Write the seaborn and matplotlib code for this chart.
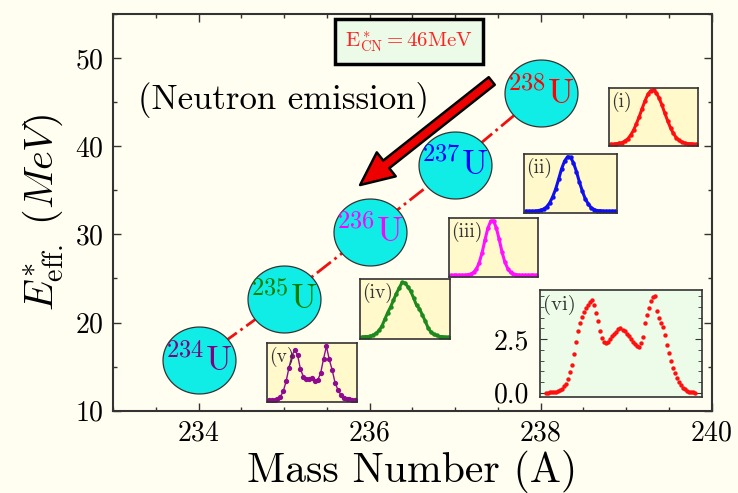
import numpy as np
import matplotlib
matplotlib.use("Agg")
import matplotlib.pyplot as plt
from matplotlib.path import Path
from matplotlib.ticker import MultipleLocator, FixedLocator, NullLocator
import seaborn as sns

# Uranium isotopes along the neutron-emission chain
mass_number = [234, 235, 236, 237, 238]
e_eff = [15.7, 22.7, 30.3, 37.9, 46.0]
nucleus_colors = ["#800080", "#008000", "#ff00ff", "#0000ff", "#ff0000"]

# Normalised fragment-mass yields for the small panels (i)-(v)
frag_bin = list(range(31))
yield_i = [0.00, 0.00, 0.01, 0.02, 0.03, 0.06, 0.10, 0.17, 0.26, 0.38, 0.51,
           0.66, 0.80, 0.92, 0.99, 1.00, 0.95, 0.85, 0.72, 0.57, 0.43, 0.30,
           0.20, 0.12, 0.07, 0.04, 0.02, 0.01, 0.01, 0.00, 0.00]
yield_ii = [0.00, 0.00, 0.00, 0.00, 0.01, 0.02, 0.04, 0.08, 0.15, 0.26, 0.40,
            0.58, 0.77, 0.91, 0.99, 0.98, 0.88, 0.72, 0.53, 0.36, 0.22, 0.13,
            0.06, 0.03, 0.01, 0.01, 0.00, 0.00, 0.00, 0.00, 0.00]
yield_iii = [0.00, 0.00, 0.00, 0.00, 0.00, 0.00, 0.01, 0.02, 0.05, 0.11, 0.23,
             0.41, 0.64, 0.85, 0.98, 0.99, 0.86, 0.65, 0.42, 0.24, 0.12, 0.05,
             0.02, 0.01, 0.00, 0.00, 0.00, 0.00, 0.00, 0.00, 0.00]
yield_iv = [0.00, 0.01, 0.01, 0.02, 0.04, 0.07, 0.12, 0.20, 0.32, 0.44, 0.54,
            0.66, 0.78, 0.88, 0.98, 0.97, 0.90, 0.82, 0.70, 0.57, 0.51, 0.40,
            0.29, 0.17, 0.09, 0.05, 0.03, 0.01, 0.01, 0.00, 0.00]
yield_v = [0.00, 0.01, 0.01, 0.02, 0.06, 0.16, 0.34, 0.59, 0.80, 0.92, 0.82,
           0.56, 0.43, 0.38, 0.39, 0.41, 0.35, 0.37, 0.49, 0.75, 0.98, 0.74,
           0.55, 0.32, 0.19, 0.10, 0.04, 0.03, 0.02, 0.01, 0.00]

# Fragment-mass yield (%) for the enlarged panel (vi)
vi_bin = list(range(75))
yield_vi = [0.00, 0.00, 0.01, 0.02, 0.03, 0.05, 0.08, 0.13, 0.19, 0.30,
            0.42, 0.63, 0.95, 1.30, 1.80, 2.39, 2.86, 3.25, 3.56, 3.75,
            3.98, 4.11, 4.23, 4.33, 4.11, 3.72, 3.33, 2.86, 2.55, 2.36,
            2.31, 2.39, 2.52, 2.63, 2.73, 2.83, 2.97, 3.02, 2.94, 2.86,
            2.73, 2.63, 2.50, 2.39, 2.28, 2.16, 2.14, 2.31, 2.58, 3.25,
            3.61, 3.98, 4.27, 4.45, 4.50, 3.80, 3.48, 3.25, 3.05, 2.70,
            2.23, 1.84, 1.48, 1.17, 0.91, 0.67, 0.48, 0.36, 0.23, 0.16,
            0.09, 0.05, 0.03, 0.02, 0.00]
vi_ticks = [0.0, 2.5]
vi_tick_labels = ["0.0", "2.5"]

x_ticks = [234, 236, 238, 240]
y_ticks = [10, 20, 30, 40, 50]

sns.set_style("ticks")
plt.rcParams.update({
    "font.family": "serif",
    "font.serif": ["cmr10"],
    "mathtext.fontset": "cm",
    "axes.formatter.use_mathtext": True,
    "axes.unicode_minus": False,
    "text.color": "black",
    "axes.labelcolor": "black",
    "xtick.labelcolor": "black",
    "ytick.labelcolor": "black",
})

BG = "#fffef0"
PANEL_Y = "#fff9cc"
PANEL_G = "#edfbe9"
SPINE = "#333333"

W, H = 738, 493
fig = plt.figure(figsize=(W / 100, H / 100), dpi=100, facecolor=BG)


def px_rect(x0, y0, x1, y1):
    return [x0 / W, 1 - y1 / H, (x1 - x0) / W, (y1 - y0) / H]


ax = fig.add_axes(px_rect(113, 14, 711.5, 410.7))
ax.set_facecolor(BG)

# dash-dot chain connecting the nuclei
sns.lineplot(x=mass_number, y=e_eff, color="#ee1111", linestyle="-.",
             linewidth=2.0, ax=ax, zorder=2)

# oval nuclei
theta = np.linspace(0, 2 * np.pi, 121)
oval = Path(np.column_stack([1.09 * np.cos(theta), np.sin(theta)]))
sns.scatterplot(x=mass_number, y=e_eff, marker=oval, s=2760, color="#10ede6",
                edgecolor="#333333", linewidth=0.9, ax=ax, zorder=3)

for m, e, c in zip(mass_number, e_eff, nucleus_colors):
    ax.text(m, e, rf"$^{{{m}}}\mathrm{{U}}$", color=c, fontsize=25,
            ha="center", va="center", zorder=4)

ax.set_xlim(233, 240)
ax.set_ylim(10, 55)
ax.xaxis.set_major_locator(FixedLocator(x_ticks))
ax.xaxis.set_minor_locator(MultipleLocator(0.5))
ax.yaxis.set_major_locator(FixedLocator(y_ticks))
ax.yaxis.set_minor_locator(MultipleLocator(5))
ax.tick_params(which="both", direction="in", top=True, right=True,
               colors=SPINE, labelcolor="black", width=1.0)
ax.tick_params(which="major", length=5.5, labelsize=20, pad=7)
ax.tick_params(which="minor", length=2.8)
for sp in ax.spines.values():
    sp.set_color(SPINE)
    sp.set_linewidth(1.5)

ax.set_xlabel("Mass Number (A)", fontsize=30, labelpad=2, color="black")
ax.set_ylabel(r"$E^{*}_{\rm eff.}\ (MeV)$", fontsize=29, labelpad=7,
              color="black")

ax.text(235.0, 45.2, "(Neutron emission)", fontsize=25, ha="center",
        va="center", zorder=5, color="black")
ax.annotate("", xy=(235.89, 35.6), xytext=(237.43, 47.4),
            arrowprops=dict(facecolor="#ee0000", edgecolor="black",
                            linewidth=1.8, width=7, headwidth=22,
                            headlength=24, shrink=0.0),
            zorder=5)
ax.text(236.46, 51.9, r"$\mathrm{E^*_{CN}=46MeV}$", color="#ff2222",
        fontsize=15, ha="center", va="center", zorder=6,
        bbox=dict(boxstyle="square,pad=0.5", fc="#ebfbe8", ec="black",
                  lw=2.5))


def small_panel(rect, values, color, label, lw=2.2, ms=3.2):
    iax = fig.add_axes(px_rect(*rect))
    iax.set_facecolor(PANEL_Y)
    sns.lineplot(x=frag_bin, y=values, color=color, linewidth=lw,
                 marker="o", markersize=ms, markeredgewidth=0, ax=iax)
    iax.set_xlim(-0.625, 30.625)
    iax.set_ylim(-0.033, 1.04)
    iax.xaxis.set_major_locator(NullLocator())
    iax.yaxis.set_major_locator(NullLocator())
    iax.set_xlabel("")
    iax.set_ylabel("")
    for sp in iax.spines.values():
        sp.set_color(SPINE)
        sp.set_linewidth(1.2)
    iax.text(0.025, 0.93, label, transform=iax.transAxes, fontsize=14,
             color="#333333", ha="left", va="top")
    return iax


small_panel((609, 88, 698, 146), yield_i, "#ff1010", "(i)")
small_panel((524, 154, 617, 213), yield_ii, "#1010ee", "(ii)")
small_panel((449, 218, 538, 277), yield_iii, "#ff10ff", "(iii)")
small_panel((360, 279, 450, 339), yield_iv, "#1e8a1e", "(iv)")
small_panel((267, 343, 357, 402), yield_v, "#8e0a8e", "(v)", lw=1.0, ms=3.8)

# enlarged panel (vi)
vax = fig.add_axes(px_rect(540, 290, 702, 396.7))
vax.set_facecolor(PANEL_G)
sns.scatterplot(x=vi_bin, y=yield_vi, color="#ff1010", s=10, linewidth=0,
                ax=vax)
vax.set_xlim(-2.8, 77.3)
vax.set_ylim(-0.19, 4.8)
vax.xaxis.set_major_locator(NullLocator())
vax.yaxis.set_major_locator(FixedLocator(vi_ticks))
vax.set_yticklabels(vi_tick_labels)
vax.yaxis.set_minor_locator(MultipleLocator(0.5))
vax.tick_params(which="both", direction="in", left=True, right=True,
                colors=SPINE, labelcolor="black")
vax.tick_params(which="major", length=5, labelsize=20, pad=8)
vax.tick_params(which="minor", length=3)
vax.set_xlabel("")
vax.set_ylabel("")
for sp in vax.spines.values():
    sp.set_color(SPINE)
    sp.set_linewidth(1.2)
vax.text(0.02, 0.95, "(vi)", transform=vax.transAxes, fontsize=15,
         color="#333333", ha="left", va="top")

fig.savefig("out.png", dpi=100, facecolor=BG)
